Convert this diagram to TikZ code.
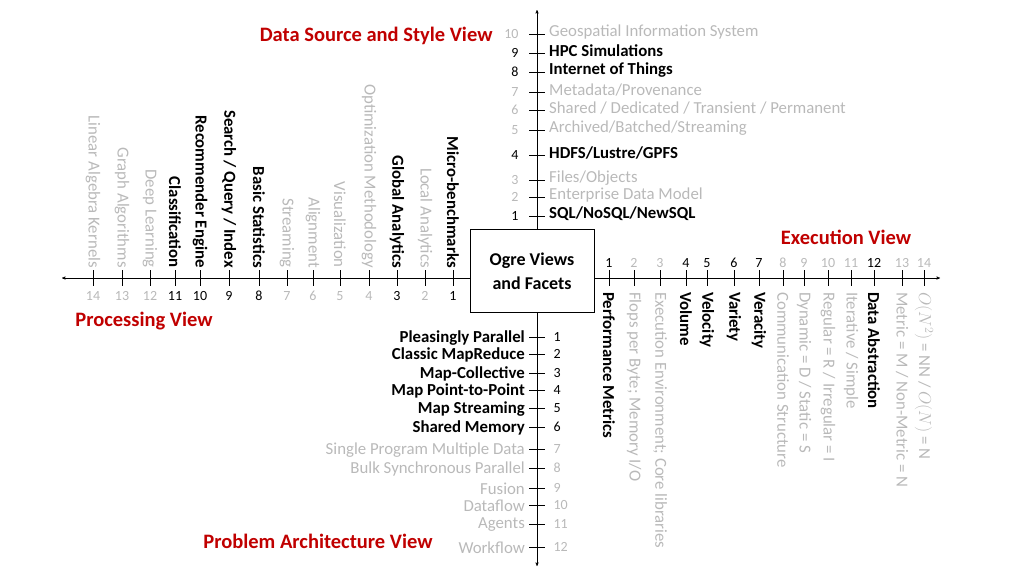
\documentclass[tikz,border=0pt]{standalone}
\usepackage{fontspec}
\setmainfont{Carlito}
\usetikzlibrary{arrows,positioning}
\definecolor{facetgray}{RGB}{185,185,185}
\definecolor{viewred}{RGB}{192,0,0}
\begin{document}
\begin{tikzpicture}
	[x=1pt,y=-1pt,>=stealth',
	on/.style={font=\fontsize{16.8}{18}\selectfont\bfseries,text=black,inner sep=1pt},
	off/.style={font=\fontsize{16.8}{18}\selectfont,text=facetgray,inner sep=1pt},
	num on/.style={font=\fontsize{14}{15}\selectfont,text=black},
	num off/.style={font=\fontsize{14}{15}\selectfont,text=facetgray},
	view/.style={font=\fontsize{20.5}{22}\selectfont\bfseries,text=viewred},
	tick/.style={thin,black}]
	\useasboundingbox (0,0) rectangle (1024,576);
	% axes
	\coordinate (top) at (537,10);
	\coordinate (bottom) at (537,566);
	\coordinate (left) at (62,278);
	\coordinate (right) at (940,278);
	\draw [->] (537,278) -- (top);
	\draw [->] (537,278) -- (bottom);
	\draw [->] (537,278) -- (left);
	\draw [->] (537,278) -- (right);
	\node (ogre) [draw,fill=white,minimum width=124,minimum height=83,align=center,
		font=\fontsize{18}{24}\selectfont\bfseries] at (532,271) {Ogre Views\\and Facets};
	% data source and style
	\foreach \y/\n/\t/\c in {34/10/Geospatial Information System/off,53/9/HPC Simulations/on,
		72/8/Internet of Things/on,92/7/{Metadata/Provenance}/off,
		110/6/{Shared / Dedicated / Transient / Permanent}/off,130/5/{Archived/Batched/Streaming}/off,
		155/4/{HDFS/Lustre/GPFS}/on,180/3/{Files/Objects}/off,197/2/Enterprise Data Model/off,
		216/1/{SQL/NoSQL/NewSQL}/on}{
		\draw [tick] (529,\y) -- (545,\y);
		\node (dn\n) [num \c,anchor=east] at (522,\y) {\n};
		\node (dt\n) [\c,anchor=west] at (548,\y-2) {\t};
	}
	% problem architecture
	\foreach \y/\n/\t/\c in {337/1/Pleasingly Parallel/on,354/2/Classic MapReduce/on,
		373/3/Map-Collective/on,390/4/Map Point-to-Point/on,408/5/Map Streaming/on,
		427/6/Shared Memory/on,449/7/Single Program Multiple Data/off,
		468/8/Bulk Synchronous Parallel/off,488/9/Fusion/off,505/10/Dataflow/off,
		524/11/Agents/off,547/12/Workflow/off}{
		\draw [tick] (529,\y) -- (545,\y);
		\node (pn\n) [num \c,anchor=west] at (550,\y) {\n};
		\node (pt\n) [\c,anchor=east] at (526,\y+1) {\t};
	}
	% processing
	\foreach \x/\n/\t/\c in {453/1/Micro-benchmarks/on,425/2/Local Analytics/off,
		397/3/Global Analytics/on,369/4/Optimization Methodology/off,340/5/Visualization/off,
		313/6/Alignment/off,287/7/Streaming/off,259/8/Basic Statistics/on,
		229/9/{Search / Query / Index}/on,200/10/Recommender Engine/on,175/11/Classification/on,
		150/12/Deep Learning/off,122/13/Graph Algorithms/off,93/14/Linear Algebra Kernels/off}{
		\draw [tick] (\x,270) -- (\x,286);
		\node (an\n) [num \c] at (\x,296) {\n};
		\node (at\n) [\c,rotate=-90,anchor=east] at (\x,269) {\t};
	}
	% execution
	\foreach \x/\n/\t/\c in {609/1/Performance Metrics/on,634/2/{Flops per Byte; Memory I/O}/off,
		660/3/{Execution Environment; Core libraries}/off,686/4/Volume/on,707/5/Velocity/on,
		734/6/Variety/on,759/7/Veracity/on,783/8/Communication Structure/off,
		804/9/{Dynamic = D / Static = S}/off,828/10/{Regular = R / Irregular = I}/off,
		851/11/{Iterative / Simple}/off,874/12/Data Abstraction/on,
		902/13/{Metric = M / Non-Metric = N}/off,924/14/{$O(N^2)$ = NN / $O(N)$ = N}/off}{
		\draw [tick] (\x,270) -- (\x,286);
		\node (en\n) [num \c] at (\x,263) {\n};
		\node (et\n) [\c,rotate=-90,anchor=west] at (\x,291) {\t};
	}
	% views
	\node (dsv) [view,anchor=east] at (496,36) {Data Source and Style View};
	\node (exv) [view] at (846,237) {Execution View};
	\node (prv) [view] at (144,321) {Processing View};
	\node (pav) [view] at (318,541) {Problem Architecture View};
\end{tikzpicture}
\end{document}
